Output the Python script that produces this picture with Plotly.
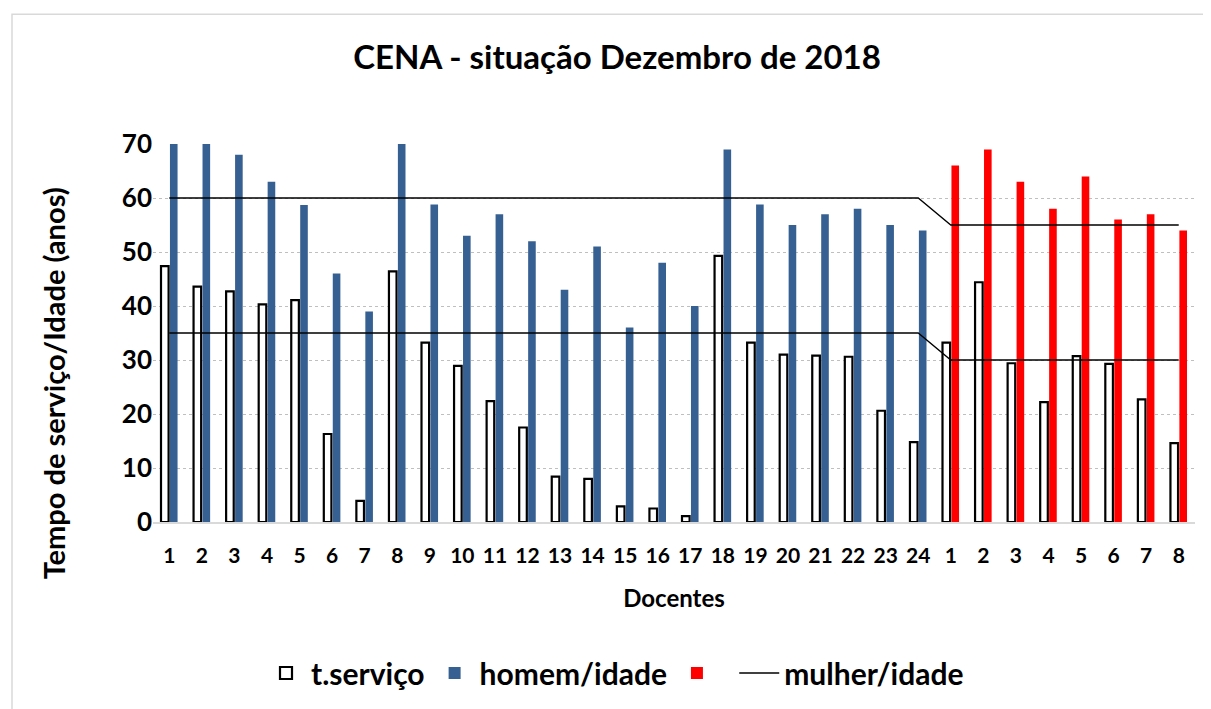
import plotly.graph_objects as go

categories = [str(i) for i in range(1, 25)] + [str(i) for i in range(1, 9)]
t_servico = [47.4, 43.6, 42.7, 40.3, 41.1, 16.3, 3.9, 46.4, 33.2, 28.9, 22.4, 17.5,
             8.4, 8.0, 2.9, 2.5, 1.1, 49.3, 33.2, 31.0, 30.8, 30.6, 20.6, 14.8,
             33.2, 44.4, 29.4, 22.2, 30.7, 29.3, 22.7, 14.6]
homem_idade = [70, 70, 68, 63, 58.7, 46, 39, 70, 58.8, 53, 57, 52,
               43, 51, 36, 48, 40, 69, 58.8, 55, 57, 58, 55, 54]
mulher_idade = [66, 69, 63, 58, 64, 56, 57, 54]
limite_idade = [60] * 24 + [55] * 8
limite_servico = [35] * 24 + [30] * 8

n_h = len(homem_idade)
n = len(categories)
xpos = list(range(n))

FONT = "Lato"
fig = go.Figure()

fig.add_trace(go.Bar(
    x=xpos, y=t_servico, name="t.serviço", offsetgroup="a",
    marker=dict(color="white", line=dict(color="black", width=2.2)),
))
fig.add_trace(go.Bar(
    x=xpos[:n_h], y=homem_idade, name="homem/idade", offsetgroup="b",
    marker=dict(color="#376092", line=dict(width=0)),
))
fig.add_trace(go.Bar(
    x=xpos[n_h:], y=mulher_idade, name=" ", offsetgroup="b",
    marker=dict(color="#ff0000", line=dict(width=0)),
))
fig.add_trace(go.Scatter(
    x=xpos, y=limite_idade, mode="lines", name="mulher/idade",
    line=dict(color="black", width=1.3),
))
fig.add_trace(go.Scatter(
    x=xpos, y=limite_servico, mode="lines", name="limite serviço", showlegend=False,
    line=dict(color="black", width=1.3),
))

OFF = 8  # page body margin
W, H = 1211 - OFF, 709 - OFF
PL, PR, PT, PB = 153, 1195, 144, 523  # plot area in page pixels
ml, mr, mt, mb = PL - OFF, (OFF + W) - PR, PT - OFF, (OFF + H) - PB
pw, ph = PR - PL, PB - PT

def px_x(p):
    return (p - PL) / pw

def px_y(p):
    return (PB - p) / ph

fig.update_layout(
    width=W, height=H,
    margin=dict(l=ml, r=mr, t=mt, b=mb),
    paper_bgcolor="white", plot_bgcolor="white",
    font=dict(family=FONT, color="black"),
    barmode="group", bargap=0.45, bargroupgap=0.15,
    title=dict(text="CENA - situação Dezembro de 2018", x=(617 - OFF) / W, xanchor="center",
               y=1 - (57 - OFF) / H, yanchor="middle",
               font=dict(family=FONT, size=33, weight="bold", color="black")),
    legend=dict(orientation="h", x=px_x(261), xanchor="left", y=px_y(673), yanchor="middle",
                font=dict(family=FONT, size=30, weight="bold", color="black"),
                traceorder="normal", itemwidth=40),
    xaxis=dict(
        range=[-0.5, n - 0.5], tickmode="array", tickvals=xpos, ticktext=categories,
        showgrid=False, zeroline=False,
        showline=True, linecolor="#d9d9d9", linewidth=2,
        ticks="outside", ticklen=14, tickcolor="rgba(0,0,0,0)",
        tickfont=dict(family=FONT, size=21, weight="bold", color="black"),
        title=dict(text="Docentes", standoff=24,
                   font=dict(family=FONT, size=24, weight="bold", color="black")),
    ),
    yaxis=dict(
        range=[0, 70], dtick=10, showgrid=True, gridcolor="#bfbfbf", griddash="dot",
        gridwidth=1, zeroline=False, showline=False,
        tickfont=dict(family=FONT, size=26, weight="bold", color="black"),
    ),
    annotations=[dict(text="Tempo de serviço/Idade (anos)", textangle=-90,
                      xref="paper", yref="paper", x=px_x(53), y=px_y(384),
                      xanchor="center", yanchor="middle", showarrow=False,
                      font=dict(family=FONT, size=29, weight="bold", color="black"))],
    shapes=[dict(type="rect", xref="paper", yref="paper",
                 x0=px_x(12), x1=px_x(1216), y0=px_y(715), y1=px_y(14),
                 line=dict(color="#d9d9d9", width=1.5), layer="below")],
)

fig.write_html("out.html")
